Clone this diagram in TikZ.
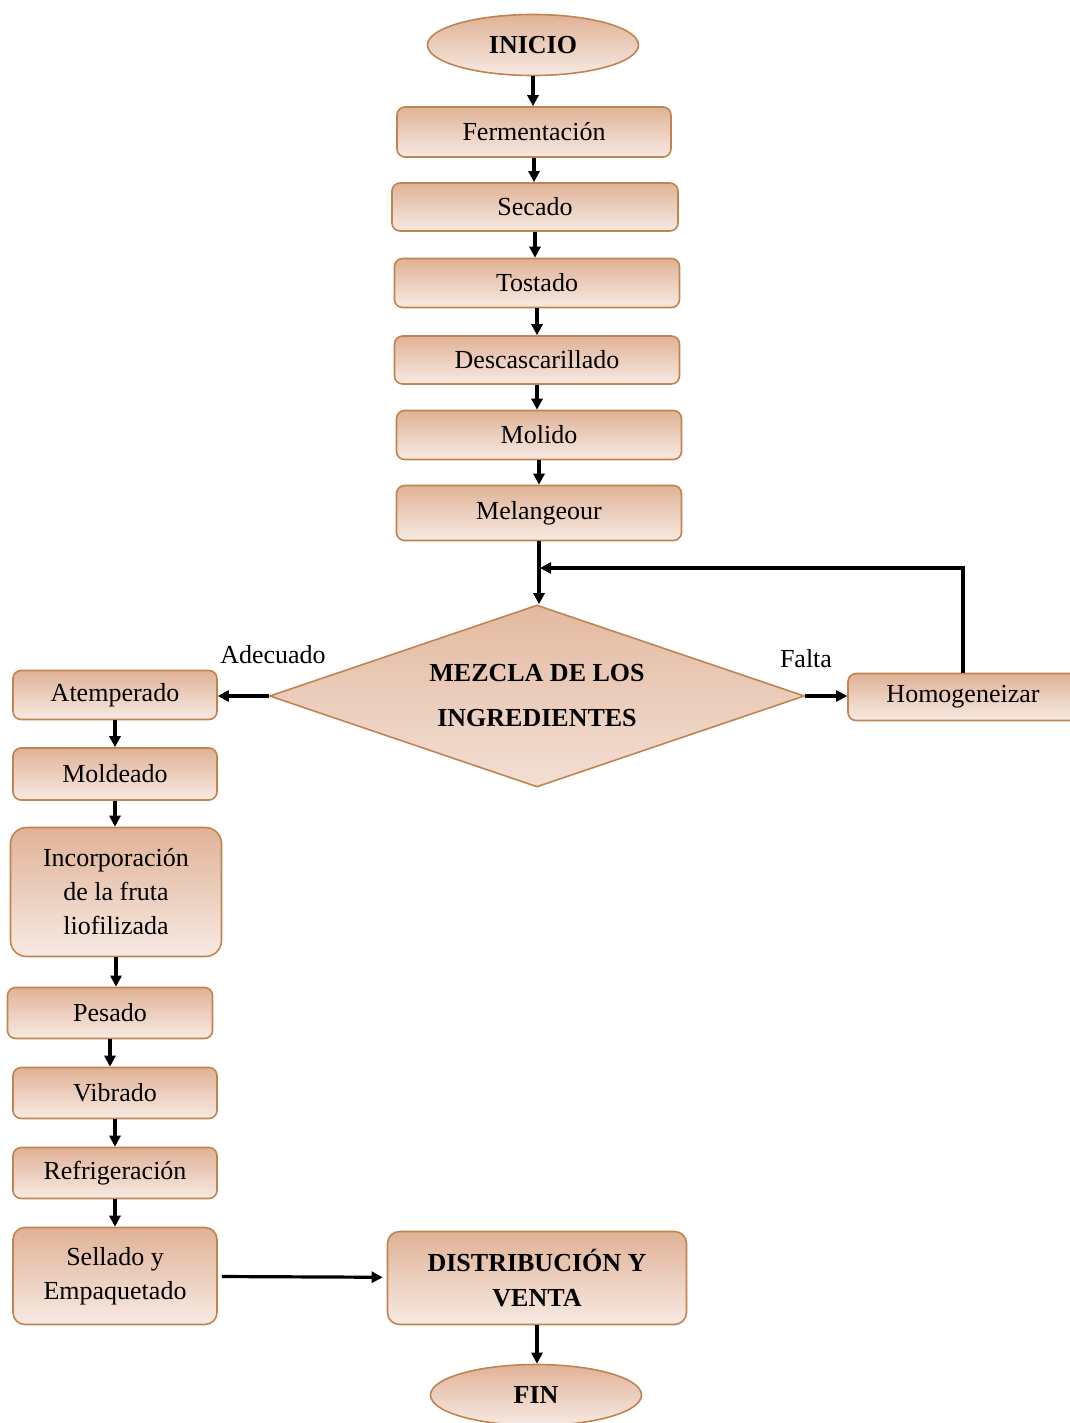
\documentclass[tikz,border=0pt]{standalone}
\usepackage{fontspec}
\setmainfont{Liberation Serif}
\usetikzlibrary{arrows.meta,positioning,shapes.geometric}

\definecolor{boxtop}{RGB}{224,178,150}
\definecolor{boxbot}{RGB}{247,234,227}
\definecolor{boxline}{RGB}{192,132,80}

\begin{document}
\begin{tikzpicture}[
   x=1pt, y=-1pt,
   box/.style={draw=boxline, line width=1.6pt, rounded corners=8pt,
               top color=boxtop, bottom color=boxbot, minimum width=285pt,
               minimum height=49pt, inner sep=2pt, align=center,
               font=\fontsize{26}{34}\selectfont},
   sidebox/.style={box, minimum width=204pt},
   term/.style={draw=boxline, line width=1.6pt, ellipse, top color=boxtop,
                bottom color=boxbot, minimum width=211pt, minimum height=61pt,
                font=\fontsize{26}{30}\selectfont\bfseries},
   decision/.style={draw=boxline, line width=1.6pt, diamond, shape aspect=2.94,
                top color=boxtop!90, bottom color=boxbot!80!boxtop,
                minimum width=535pt, minimum height=182pt, inner sep=0pt,
                align=center, font=\fontsize{26}{45}\selectfont\bfseries},
   lbl/.style={font=\fontsize{26}{30}\selectfont},
   >={Triangle[length=11pt, width=11pt]}, line width=3.2pt]
  \useasboundingbox (0,0) rectangle (1069,1423);

  % main column
  \node[term] (inicio) at (533,45) {INICIO};
  \node[box, minimum width=274pt, minimum height=50pt] (ferm) at (534,132) {Fermentación};
  \node[box, minimum width=286pt, minimum height=48pt] (secado) at (535,207) {Secado};
  \node[box] (tostado) at (537,283) {Tostado};
  \node[box, minimum height=48pt] (descas) at (537,360) {Descascarillado};
  \node[box] (molido) at (539,435) {Molido};
  \node[box, minimum height=55pt] (melang) at (539,513) {Melangeour};
  \node[decision] (mezcla) at (537,696) {MEZCLA DE LOS\\INGREDIENTES};

  % branch labels
  \node[lbl] (adec) at (273,655) {Adecuado};
  \node[lbl] (falta) at (806,659) {Falta};

  \node[sidebox, minimum width=230pt, minimum height=47pt] (homog) at (963,697) {Homogeneizar};
  \coordinate (back) at (540,568);

  % left column
  \node[sidebox] (atemp) at (115,695) {Atemperado};
  \node[sidebox, minimum height=52pt] (molde) at (115,774) {Moldeado};
  \node[sidebox, minimum width=211pt, minimum height=129pt, rounded corners=16pt] (incorp) at (116,892)
       {Incorporación\\de la fruta\\liofilizada};
  \node[sidebox, minimum width=205pt, minimum height=51pt] (pesado) at (110,1013) {Pesado};
  \node[sidebox, minimum height=51pt] (vibrado) at (115,1093) {Vibrado};
  \node[sidebox, minimum height=51pt] (refrig) at (115,1173) {Refrigeración};
  \node[sidebox, minimum height=97pt, rounded corners=12pt] (sellado) at (115,1276) {Sellado y\\Empaquetado};

  % end
  \node[box, minimum width=299pt, minimum height=93pt, rounded corners=12pt,
        font=\fontsize{26}{35}\selectfont\bfseries] (distrib) at (537,1278) {DISTRIBUCIÓN Y\\VENTA};
  \node[term] (fin) at (536,1395) {FIN};

  % connectors
  \draw[->] (inicio) -- (inicio |- ferm.north);
  \draw[->] (ferm) -- (ferm |- secado.north);
  \draw[->] (secado) -- (secado |- tostado.north);
  \draw[->] (tostado) -- (tostado |- descas.north);
  \draw[->] (descas) -- (descas |- molido.north);
  \draw[->] (molido) -- (molido |- melang.north);
  \draw[->] (melang) -- (melang |- mezcla.north);
  \draw[->] (mezcla.west) -- (mezcla.west -| atemp.east);
  \draw[->] (mezcla.east) -- (mezcla.east -| homog.west);
  \draw[->] (homog.north) |- (back);
  \draw[->] (atemp) -- (atemp |- molde.north);
  \draw[->] (molde) -- (molde |- incorp.north);
  \draw[->] (incorp) -- (incorp |- pesado.north);
  \draw[->] (pesado) -- (pesado |- vibrado.north);
  \draw[->] (vibrado) -- (vibrado |- refrig.north);
  \draw[->] (refrig) -- (refrig |- sellado.north);
  \draw[->, shorten <=4pt, shorten >=4pt] (sellado) -- (distrib);
  \draw[->] (distrib) -- (distrib |- fin.north);
\end{tikzpicture}
\end{document}
